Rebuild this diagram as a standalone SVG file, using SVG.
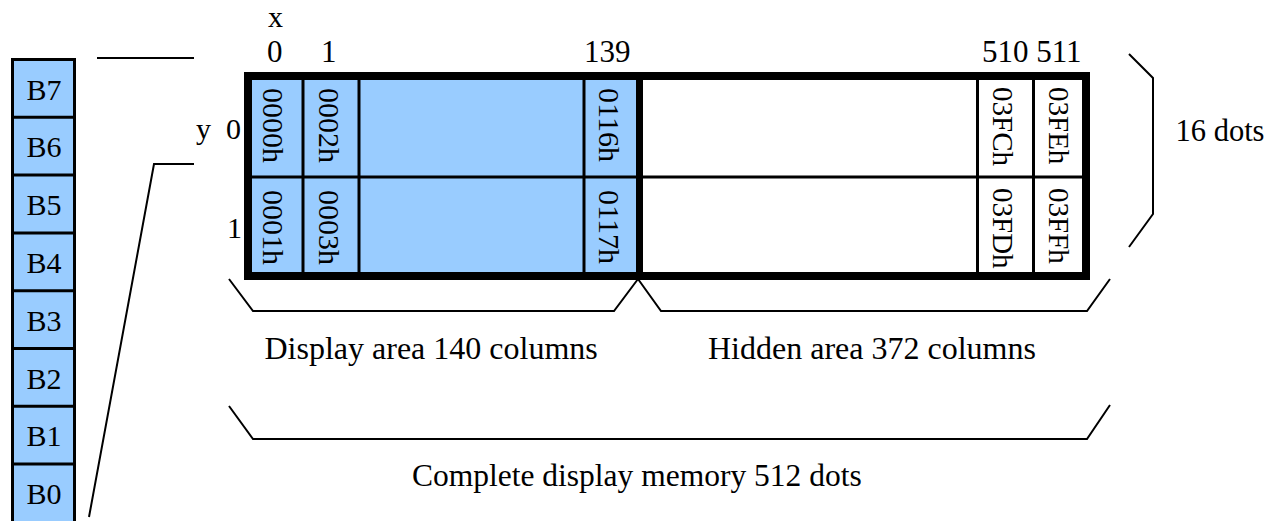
<svg xmlns="http://www.w3.org/2000/svg" width="1277" height="521" viewBox="0 0 1277 521">
<style>
text{font-family:"Liberation Serif","Times New Roman",serif;fill:#000}
.b{font-size:30px;text-anchor:middle}
.lbl{font-size:31px}
.cell{font-size:30px}
.cap{font-size:32px}
.blue{fill:#99CCFF}
.thin{stroke:#000;stroke-width:3;fill:none}
.br{stroke:#000;stroke-width:2;fill:none}
</style>
<rect width="1277" height="521" fill="#fff"/>
<g id="bits">
<rect x="12.5" y="59.5" width="62" height="470" class="blue" stroke="#000" stroke-width="3"/>
<g class="thin">
<line x1="12.5" y1="117.3" x2="74.5" y2="117.3"/>
<line x1="12.5" y1="175.1" x2="74.5" y2="175.1"/>
<line x1="12.5" y1="232.9" x2="74.5" y2="232.9"/>
<line x1="12.5" y1="290.7" x2="74.5" y2="290.7"/>
<line x1="12.5" y1="348.5" x2="74.5" y2="348.5"/>
<line x1="12.5" y1="406.3" x2="74.5" y2="406.3"/>
<line x1="12.5" y1="464.1" x2="74.5" y2="464.1"/>
</g>
<g id="bit7"><text class="b" x="44" y="99.5">B7</text></g>
<g id="bit6"><text class="b" x="44" y="157.3">B6</text></g>
<g id="bit5"><text class="b" x="44" y="215.1">B5</text></g>
<g id="bit4"><text class="b" x="44" y="272.9">B4</text></g>
<g id="bit3"><text class="b" x="44" y="330.7">B3</text></g>
<g id="bit2"><text class="b" x="44" y="388.5">B2</text></g>
<g id="bit1"><text class="b" x="44" y="446.3">B1</text></g>
<g id="bit0"><text class="b" x="44" y="504.1">B0</text></g>
</g>
<g id="memory">
<rect x="252" y="80" width="386" height="193" class="blue"/>
<rect x="643" y="80" width="439" height="193" fill="#fff"/>
<g class="thin">
<line x1="252" y1="177" x2="1082" y2="177"/>
<line x1="303" y1="80" x2="303" y2="273"/>
<line x1="359" y1="80" x2="359" y2="273"/>
<line x1="584" y1="80" x2="584" y2="273"/>
<line x1="977.5" y1="80" x2="977.5" y2="273"/>
<line x1="1033.5" y1="80" x2="1033.5" y2="273"/>
</g>
<line x1="639.5" y1="76" x2="639.5" y2="276" stroke="#000" stroke-width="7"/>
<rect x="248" y="76" width="838" height="200" fill="none" stroke="#000" stroke-width="8"/>
<g class="cell">
<text transform="translate(263,88) rotate(90)">0000h</text>
<text transform="translate(263,190) rotate(90)">0001h</text>
<text transform="translate(319,88) rotate(90)">0002h</text>
<text transform="translate(319,190) rotate(90)">0003h</text>
<text transform="translate(599,88) rotate(90)">0116h</text>
<text transform="translate(599,190) rotate(90)">0117h</text>
<text transform="translate(992.5,87) rotate(90)" font-size="29">03FCh</text>
<text transform="translate(992.5,188) rotate(90)" font-size="29">03FDh</text>
<text transform="translate(1048.5,87) rotate(90)" font-size="29">03FEh</text>
<text transform="translate(1048.5,188) rotate(90)" font-size="29">03FFh</text>
</g>
</g>
<g id="axis-labels" class="lbl">
<text x="268" y="27" font-size="30">x</text>
<text x="267" y="62">0</text>
<text x="321" y="62">1</text>
<text x="584" y="62">139</text>
<text x="982" y="62">510 511</text>
<text x="196" y="139" font-size="30">y</text>
<text x="226" y="139" font-size="30">0</text>
<text x="227" y="238" font-size="30">1</text>
</g>
<g id="captions" class="cap">
<text x="1175.5" y="141" font-size="30.5">16 dots</text>
<text x="264.5" y="359">Display area 140 columns</text>
<text x="708" y="359">Hidden area 372 columns</text>
<text x="412" y="485.5" font-size="31.5">Complete display memory 512 dots</text>
</g>
<g id="connectors" class="br">
<polyline points="97,58 194,58"/>
<polyline points="194,164 154,164 89,517"/>
<polyline points="1129,54 1153,78 1153,214 1129,247"/>
<polyline points="229,279 253,311 614,311 638,279"/>
<polyline points="638,279 661,311 1087,311 1110,279"/>
<polyline points="229,406 253,439 1087,439 1110,405"/>
</g>
</svg>
